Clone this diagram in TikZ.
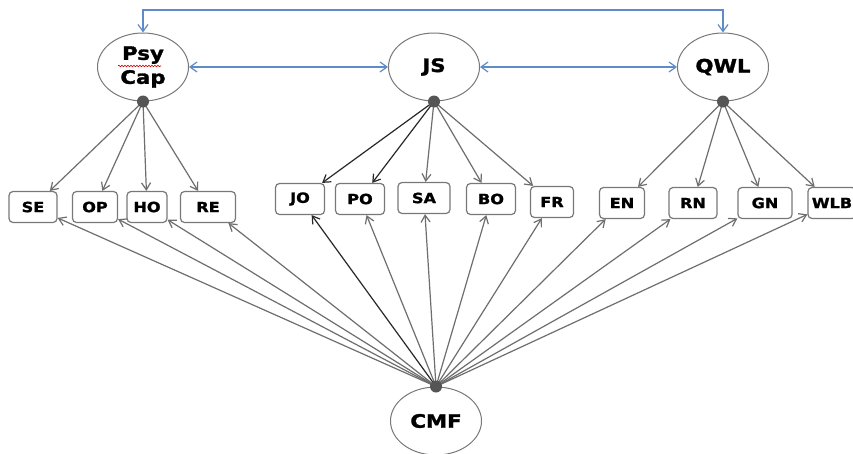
\documentclass[tikz,border=0pt]{standalone}
\usepackage{fontspec}
\setmainfont{DejaVu Sans}[FakeStretch=1.15,BoldFeatures={FakeBold=1.6}]
\usetikzlibrary{arrows.meta,shapes.geometric,decorations.pathmorphing}
\definecolor{linkblue}{RGB}{95,140,200}
\definecolor{pathgray}{RGB}{110,110,110}
\definecolor{pathdark}{RGB}{40,40,40}
\definecolor{bordergray}{RGB}{120,120,120}
\definecolor{dotgray}{RGB}{85,85,85}

\begin{document}
\begin{tikzpicture}[x=1pt,y=-1pt,
  latent/.style={ellipse,draw=bordergray,line width=1pt,minimum width=91pt,
    minimum height=68pt,inner sep=0pt,font=\fontsize{18.5}{24}\selectfont\bfseries,align=center},
  indicator/.style={draw=bordergray,line width=1.2pt,rounded corners=4pt,
    minimum height=31pt,inner sep=0pt,font=\fontsize{14}{16}\selectfont\bfseries},
  hub/.style={circle,fill=dotgray,minimum size=12pt,inner sep=0pt},
  load/.style={draw=pathgray,line width=1.2pt,-{Straight Barb[length=7pt,width=9pt]}},
  loaddark/.style={load,draw=pathdark},
  corr/.style={draw=linkblue,line width=1.2pt,
    {Straight Barb[length=7pt,width=10pt]}-{Straight Barb[length=7pt,width=10pt]}}
]
\clip (0,0) rectangle (853,453);
\fill[white] (0,0) rectangle (853,453);

% latent constructs
\node[latent] (psycap) at (143,67) {Psy\\Cap};
\node[latent] (js)     at (434,67) {JS};
\node[latent] (qwl)    at (723,67) {QWL};
\node[latent] (cmf)    at (436,421) {CMF};

% spell-check squiggle under "Psy"
\draw[red!80!black,line width=0.6pt,decorate,
  decoration={snake,amplitude=0.8pt,segment length=3pt}] (118,66) -- (161,66);

% indicators
\node[indicator,minimum width=48pt] (se)  at (33,207)  {SE};
\node[indicator,minimum width=45pt] (op)  at (95,207)  {OP};
\node[indicator,minimum width=40pt] (ho)  at (147,207) {HO};
\node[indicator,minimum width=55pt] (re)  at (208,207) {RE};
\node[indicator,minimum width=49pt] (jo)  at (300,199) {JO};
\node[indicator,minimum width=49pt] (po)  at (360,199) {PO};
\node[indicator,minimum width=52pt] (sa)  at (424,198) {SA};
\node[indicator,minimum width=49pt] (bo)  at (491,199) {BO};
\node[indicator,minimum width=43pt] (fr)  at (552,202) {FR};
\node[indicator,minimum width=45pt] (en)  at (622,203) {EN};
\node[indicator,minimum width=48pt] (rn)  at (693,203) {RN};
\node[indicator,minimum width=54pt] (gn)  at (765,203) {GN};
\node[indicator,minimum width=48pt] (wlb) at (832,203) {WLB};

% hub points
\coordinate (hp) at (psycap.south);
\coordinate (hj) at (js.south);
\coordinate (hq) at (qwl.south);
\coordinate (hc) at (cmf.north);

% correlations between the three constructs
\coordinate (topline) at (0,10);
\draw[corr] (psycap) -- (js);
\draw[corr] (js) -- (qwl);
\draw[corr] (psycap.north) -- (psycap.north |- topline) -| (qwl.north);

% loadings
\foreach \t in {se,op,ho,re} \draw[load] (hp) -- (\t);
\foreach \t in {jo,po} \draw[loaddark] (hj) -- (\t);
\foreach \t in {sa,bo,fr} \draw[load] (hj) -- (\t);
\foreach \t in {en,rn,gn,wlb} \draw[load] (hq) -- (\t);

% common method factor paths
\draw[loaddark] (hc) -- (jo);
\foreach \t in {se,op,ho,re,po,sa,bo,fr,en,rn,gn,wlb} \draw[load] (hc) -- (\t);

% hubs on top
\foreach \h in {hp,hj,hq,hc} \node[hub] at (\h) {};
\end{tikzpicture}
\end{document}
